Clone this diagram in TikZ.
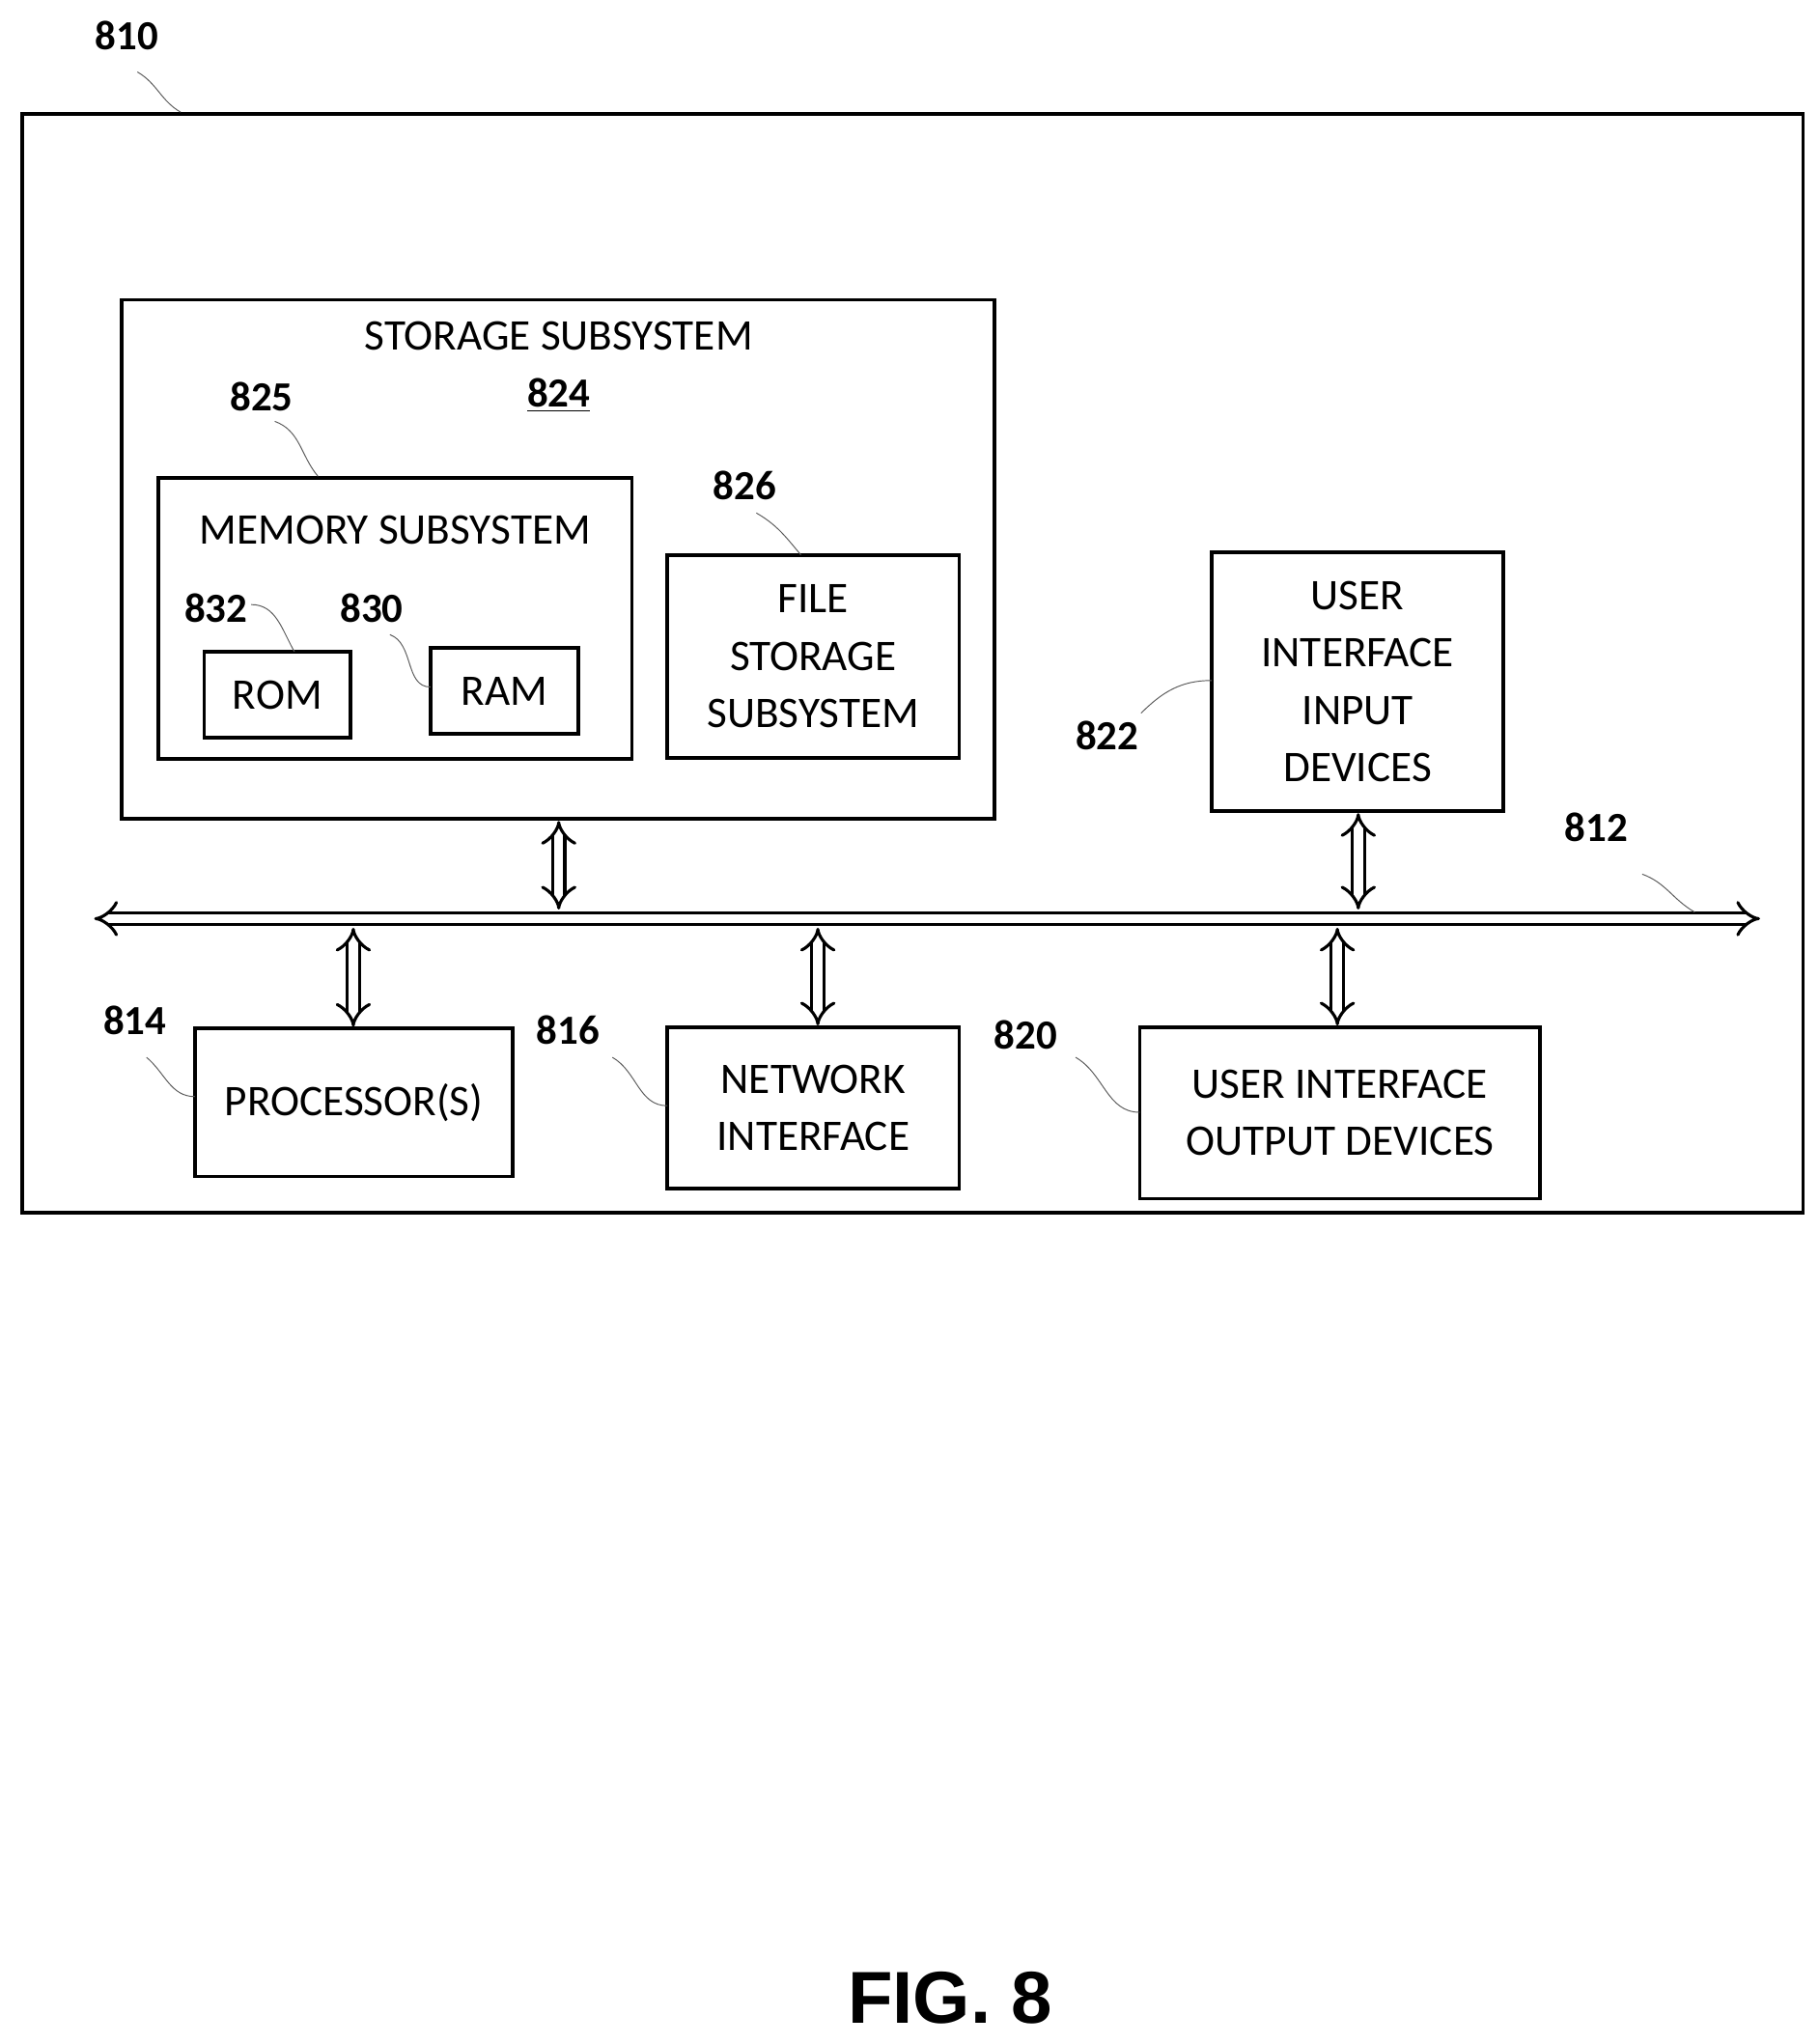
\documentclass[tikz,border=0pt]{standalone}
\usepackage{fontspec}
\setmainfont{Carlito}
\newfontfamily\figfont{Liberation Sans}
\usetikzlibrary{arrows.meta}
\tikzset{
  box/.style={draw, line width=1.6pt, inner sep=0pt, align=center,
    font=\fontsize{19}{25}\selectfont},
  num/.style={font=\bfseries\fontsize{18}{20}\selectfont},
  lead/.style={line width=0.4pt, gray!70!black},
  dbl/.style={draw=black, double=white, line width=1.3pt, double distance=4pt,
    {Implies[length=7pt]}-{Implies[length=7pt]}}
}
\begin{document}
\begin{tikzpicture}[x=0.02cm, y=-0.02cm]
    \useasboundingbox (0,0) rectangle (1390,1562);
    % outer system
    \node[box, minimum width=27.22cm, minimum height=16.8cm] (sys) at (697.5,507) {};
    \node[num] (l810) at (97,27) {810};
    \draw[lead] (105,55) to[out=-30, in=150] (sys.north west -| 138,0);
    % storage subsystem
    \node[box, minimum width=13.34cm, minimum height=7.94cm] (stor) at (426.5,427.5) {};
    \node[font=\fontsize{19}{22}\selectfont] (tstor) at (427,257) {STORAGE SUBSYSTEM};
    \node[num] (l824) at (427,302) {\underline{824}};
    \node[num] (l825) at (200,303) {825};
    \node[box, minimum width=7.24cm, minimum height=4.3cm] (mem) at (302,472.5) {};
    \draw[lead] (210,322) to[out=-20, in=130] (243,364);
    \node[font=\fontsize{19}{22}\selectfont] (tmem) at (302,405) {MEMORY SUBSYSTEM};
    \node[num] (l832) at (165,465) {832};
    \node[num] (l830) at (284,465) {830};
    \node[box, minimum width=2.24cm, minimum height=1.32cm] (rom) at (212,531) {ROM};
    \node[box, minimum width=2.26cm, minimum height=1.32cm] (ram) at (385.5,528) {RAM};
    \draw[lead] (192,462) to[out=0, in=120] (225,498);
    \draw[lead] (298,485) to[out=-20, in=180] (329,525);
    \node[num] (l826) at (569,371) {826};
    \node[box, minimum width=4.46cm, minimum height=3.1cm] (file) at (621.5,501.5)
      {FILE\\STORAGE\\SUBSYSTEM};
    \draw[lead] (578,392) to[out=-30, in=130] (612,424);
    % user interface input
    \node[box, minimum width=4.46cm, minimum height=3.96cm] (uin) at (1037.5,521)
      {USER\\INTERFACE\\INPUT\\DEVICES};
    \node[num] (l822) at (846,562) {822};
    \draw[lead] (872,545) to[out=45, in=180] (926,520);
    % bus
    \coordinate (busw) at (72,702);
    \coordinate (buse) at (1345,702);
    \draw[dbl] (busw) -- (buse);
    \node[num] (l812) at (1220,632) {812};
    \draw[lead] (1255,668) to[out=-20, in=150] (1295,697);
    % bottom row
    \node[box, minimum width=4.86cm, minimum height=2.26cm] (proc) at (270.5,842.5) {PROCESSOR(S)};
    \node[num] (l814) at (103,780) {814};
    \draw[lead] (112,808) to[out=-40, in=180] (149,838);
    \node[box, minimum width=4.46cm, minimum height=2.46cm] (net) at (621.5,846.5)
      {NETWORK\\INTERFACE};
    \node[num] (l816) at (434,787) {816};
    \draw[lead] (468,808) to[out=-30, in=180] (510,845);
    \node[box, minimum width=6.12cm, minimum height=2.62cm] (uout) at (1024,850.5)
      {USER INTERFACE\\OUTPUT DEVICES};
    \node[num] (l820) at (784,791) {820};
    \draw[lead] (822,808) to[out=-30, in=180] (871,850);
    % connections to bus
    \draw[dbl] (stor.south -| 427,0) -- (427,695);
    \draw[dbl] (uin.south -| 1038,0) -- (1038,695);
    \draw[dbl] (270,709) -- (proc.north -| 270,0);
    \draw[dbl] (625,709) -- (net.north -| 625,0);
    \draw[dbl] (1022,709) -- (uout.north -| 1022,0);
    % caption
    \node[font=\figfont\bfseries\fontsize{32}{36}\selectfont] (fig) at (726,1527) {FIG. 8};
\end{tikzpicture}
\end{document}
